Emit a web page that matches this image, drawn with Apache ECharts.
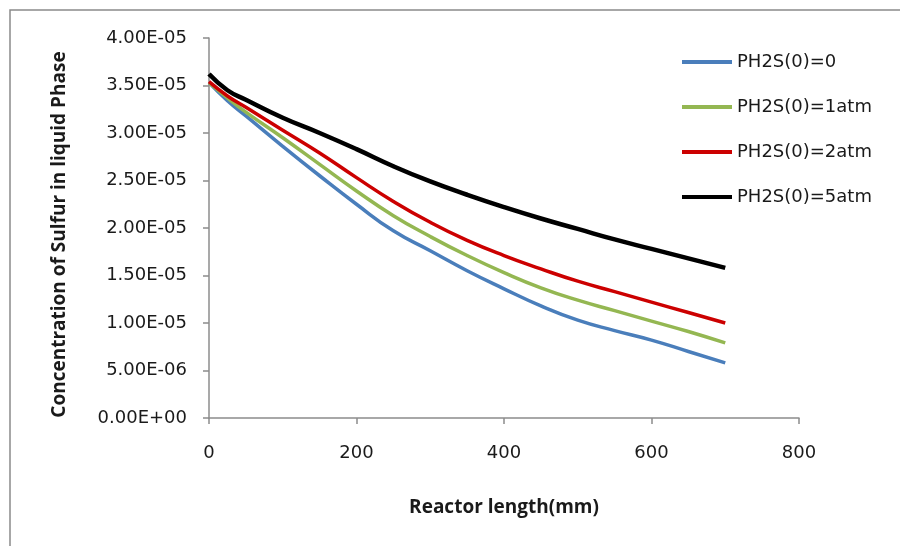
<!DOCTYPE html>
<html>
<head>
<meta charset="utf-8">
<script src="https://cdn.jsdelivr.net/npm/echarts@6/dist/echarts.min.js"></script>
<style>html,body{margin:0;padding:0;background:#fff}#c{width:900px;height:546px}</style>
</head>
<body>
<div id="c"></div>
<script>
const xValues = [0, 25, 50, 100, 150, 200, 250, 300, 350, 400, 450, 500, 550, 600, 650, 700];
const seriesNames = ['PH2S(0)=0', 'PH2S(0)=1atm', 'PH2S(0)=2atm', 'PH2S(0)=5atm'];
// values in units of 1e-5
const s0 = [3.53, 3.34, 3.18, 2.86, 2.55, 2.25, 1.97, 1.76, 1.55, 1.36, 1.18, 1.03, 0.92, 0.82, 0.70, 0.58];
const s1 = [3.53, 3.37, 3.22, 2.95, 2.67, 2.39, 2.13, 1.91, 1.71, 1.53, 1.37, 1.24, 1.13, 1.02, 0.91, 0.79];
const s2 = [3.54, 3.39, 3.27, 3.03, 2.79, 2.53, 2.28, 2.06, 1.87, 1.71, 1.57, 1.44, 1.33, 1.22, 1.11, 1.00];
const s5 = [3.62, 3.45, 3.35, 3.16, 3.00, 2.83, 2.65, 2.49, 2.35, 2.22, 2.10, 1.99, 1.88, 1.78, 1.68, 1.58];
const colors = ['#4a7ebb', '#94b752', '#cc0000', '#000000'];
const widths = [3.5, 3.5, 3.5, 4.5];
const xTitle = 'Reactor length(mm)';
const yTitle = 'Concentration of Sulfur in liquid Phase';

function fmtExp(v) {
  if (v === 0) return '0.00E+00';
  const s = v.toExponential(2).toUpperCase();
  const m = s.split('E');
  const sign = m[1][0] === '-' ? '-' : '+';
  let e = m[1].replace(/^[+-]/, '');
  if (e.length < 2) e = '0' + e;
  return m[0] + 'E' + sign + e;
}

const all = [s0, s1, s2, s5];
const chart = echarts.init(document.getElementById('c'), null, {renderer: 'canvas'});
const axisColor = '#8c8c8c';
const textColor = '#1a1a1a';
chart.setOption({
  animation: false,
  backgroundColor: '#fff',
  graphic: [{
    type: 'rect', shape: {x: 10, y: 10, width: 1000, height: 1000},
    style: {fill: 'none', stroke: '#8a8a8a', lineWidth: 1.5}, silent: true
  }],
  grid: {left: 209, top: 38, width: 590, height: 380, containLabel: false},
  legend: {
    orient: 'vertical', left: 682, top: 53, padding: 0, itemWidth: 50, itemHeight: 4, itemGap: 27,
    icon: 'rect',
    textStyle: {fontFamily: 'DejaVu Sans', fontSize: 18, color: textColor},
    data: seriesNames
  },
  xAxis: {
    type: 'value', min: 0, max: 800, interval: 200,
    name: xTitle, nameLocation: 'middle', nameGap: 80,
    nameTextStyle: {fontFamily: 'Open Sans', fontWeight: 'bold', fontSize: 19, color: textColor},
    axisLine: {show: true, lineStyle: {color: axisColor, width: 1.5}},
    axisTick: {show: true, length: 6, inside: false, lineStyle: {color: axisColor, width: 1.5}},
    axisLabel: {fontFamily: 'DejaVu Sans', fontSize: 18, color: textColor, margin: 26},
    splitLine: {show: false}
  },
  yAxis: {
    type: 'value', min: 0, max: 4e-5, interval: 5e-6,
    name: yTitle, nameLocation: 'middle', nameGap: 140, nameRotate: 90,
    nameTextStyle: {fontFamily: 'Open Sans', fontWeight: 'bold', fontSize: 19, color: textColor, padding: [0, 13, 0, 0]},
    axisLine: {show: true, lineStyle: {color: axisColor, width: 1.5}},
    axisTick: {show: true, length: 6, inside: false, lineStyle: {color: axisColor, width: 1.5}},
    axisLabel: {fontFamily: 'DejaVu Sans', fontSize: 18, color: textColor, margin: 22, formatter: fmtExp},
    splitLine: {show: false}
  },
  series: seriesNames.map((n, i) => ({
    name: n, type: 'line', symbol: 'none', smooth: 0.5,
    color: colors[i],
    lineStyle: {color: colors[i], width: widths[i]},
    itemStyle: {color: colors[i]},
    data: xValues.map((x, j) => [x, all[i][j] * 1e-5])
  }))
});
</script>
</body>
</html>
